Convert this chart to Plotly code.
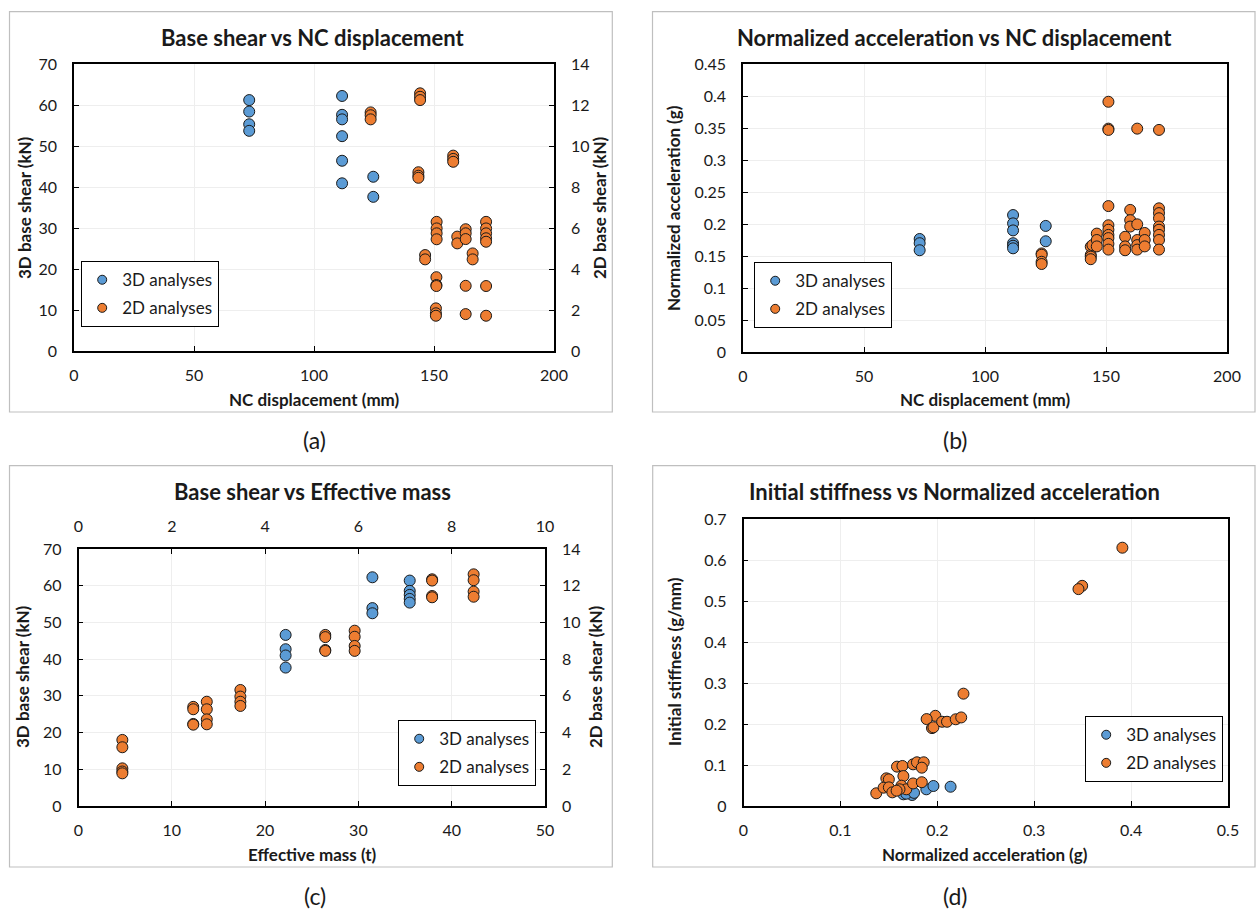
import plotly.graph_objects as go

W, H = 1258, 910
FONT = "Lato"
BLUE = "#5b9bd5"
ORANGE = "#ed7d31"

# ---------------- data ----------------
# (a) Base shear vs NC displacement
a3d_disp = [73, 73, 73, 73, 111.7, 111.7, 111.7, 111.7, 111.7, 111.7, 124.7, 124.7]
a3d_shear = [61.2, 58.4, 55.3, 53.7, 62.2, 57.6, 56.5, 52.4, 46.4, 40.9, 42.5, 37.6]
a2d_disp = [123.6, 123.6, 123.6, 144.2, 144.2, 144.2, 158, 158, 158, 143.5, 143.5, 143.5,
            146.3, 146.3, 151.1, 151.1, 151.1, 151.1, 151, 151, 151, 150.8, 150.8, 150.8,
            159.7, 159.7, 163.2, 163.2, 163.2, 166.1, 166.1, 163.2, 163.2,
            171.7, 171.7, 171.7, 171.7, 171.7, 171.7, 171.7]
a2d_shear = [11.64, 11.5, 11.3, 12.57, 12.4, 12.24, 9.53, 9.37, 9.23, 8.72, 8.55, 8.45,
             4.68, 4.47, 6.3, 5.98, 5.74, 5.45, 3.6, 3.22, 3.17, 2.08, 1.84, 1.72,
             5.58, 5.25, 5.94, 5.74, 5.46, 4.76, 4.47, 3.18, 1.8,
             6.3, 5.98, 5.74, 5.5, 5.33, 3.17, 1.72]

# (b) Normalized acceleration vs NC displacement
b3d_disp = [73, 73, 73, 111.6, 111.6, 111.6, 111.6, 111.6, 111.6, 125.1, 125.1]
b3d_acc = [0.1766, 0.170, 0.159, 0.214, 0.201, 0.190, 0.170, 0.166, 0.162, 0.197, 0.173]
b2d_disp = [123.4, 123.4, 123.4, 123.4, 143.7, 143.7, 143.7, 143.7, 144.4,
            146.2, 146.2, 146.2,
            151, 151, 151, 151, 151, 151, 151, 151, 151, 151,
            157.9, 157.9, 157.9, 160, 160, 160,
            162.9, 162.9, 162.9, 162.9, 162.9, 166, 166, 166,
            171.9, 171.9, 171.9, 171.9, 171.9, 171.9, 171.9, 171.9, 171.9]
b2d_acc = [0.154, 0.152, 0.141, 0.1375, 0.1646, 0.1516, 0.149, 0.145, 0.167,
           0.185, 0.175, 0.165,
           0.391, 0.349, 0.347, 0.228, 0.198, 0.191, 0.183, 0.178, 0.169, 0.160,
           0.180, 0.165, 0.159, 0.222, 0.206, 0.196,
           0.349, 0.1995, 0.175, 0.167, 0.160, 0.186, 0.175, 0.165,
           0.347, 0.2245, 0.217, 0.209, 0.196, 0.191, 0.183, 0.175, 0.160]

# (c) Base shear vs Effective mass
c3d_mass = [22.2, 22.2, 22.2, 22.2, 31.5, 31.5, 31.5, 35.5, 35.5, 35.5, 35.5, 35.5]
c3d_shear = [46.6, 42.7, 41.0, 37.7, 62.3, 53.9, 52.5, 61.4, 58.6, 57.5, 56.4, 55.4]
c2d_mass = [0.94, 0.94, 0.94, 0.94, 0.94, 2.46, 2.46, 2.46, 2.46, 2.75, 2.75, 2.75, 2.75,
            3.47, 3.47, 3.47, 3.47, 5.29, 5.29, 5.29, 5.29, 5.92, 5.92, 5.92, 5.92,
            7.58, 7.58, 7.58, 7.58, 8.47, 8.47, 8.47, 8.47]
c2d_shear = [3.6, 3.2, 2.05, 1.88, 1.78, 5.4, 5.27, 4.47, 4.43, 5.68, 5.27, 4.72, 4.45,
             6.32, 5.96, 5.68, 5.45, 9.32, 9.2, 8.5, 8.45, 9.55, 9.22, 8.72, 8.45,
             12.35, 12.28, 11.44, 11.37, 12.62, 12.3, 11.68, 11.4]

# (d) Initial stiffness vs Normalized acceleration
d3d_acc = [0.1887, 0.196, 0.2137, 0.165, 0.174, 0.170, 0.168, 0.176]
d3d_stiff = [0.0407, 0.0488, 0.047, 0.0285, 0.0268, 0.035, 0.030, 0.032]
d2d_acc = [0.391, 0.3495, 0.3457, 0.227, 0.198, 0.189, 0.1945, 0.196, 0.205, 0.210,
           0.219, 0.2247,
           0.1584, 0.164, 0.165, 0.175, 0.179, 0.186, 0.184, 0.1474, 0.150, 0.137,
           0.1446, 0.150, 0.1536, 0.163, 0.168, 0.175, 0.184, 0.161, 0.158]
d2d_stiff = [0.630, 0.537, 0.529, 0.274, 0.220, 0.212, 0.190, 0.192, 0.2055, 0.2055,
             0.2115, 0.216,
             0.096, 0.0976, 0.073, 0.1016, 0.1066, 0.1066, 0.0935, 0.0675, 0.065, 0.031,
             0.0447, 0.0455, 0.0333, 0.0496, 0.0407, 0.055, 0.058, 0.0407, 0.0374]

LEG_3D = "3D analyses"
LEG_2D = "2D analyses"

# ---------------- helpers ----------------
def px(x):
    return x / W

def py(y):
    return 1 - y / H

MARK = dict(size=11, line=dict(color="#1a1a1a", width=1))

def axis_style(**kw):
    d = dict(
        showline=True, linecolor="black", linewidth=1.6, mirror=True,
        ticks="inside", ticklen=5, tickcolor="black", tickwidth=1,
        showgrid=True, gridcolor="#eeeeee", gridwidth=1,
        zeroline=False, automargin=False,
        tickfont=dict(family=FONT, size=16, color="#1a1a1a"),
    )
    d.update(kw)
    return d

fig = go.Figure()

def pts(x, y, color, xa, ya):
    fig.add_trace(go.Scatter(x=x, y=y, mode="markers", xaxis=xa, yaxis=ya,
                             marker=dict(color=color, **MARK), showlegend=False,
                             hoverinfo="x+y"))

def legend_entries(leg, xa, ya):
    for name, color in ((LEG_3D, BLUE), (LEG_2D, ORANGE)):
        fig.add_trace(go.Scatter(x=[None], y=[None], mode="markers", xaxis=xa, yaxis=ya,
                                 name=name, legend=leg, legendgroup=leg + name,
                                 marker=dict(color=color, size=9,
                                             line=dict(color="#1a1a1a", width=1))))

# (a)
pts(a3d_disp, a3d_shear, BLUE, "x", "y")
pts(a2d_disp, a2d_shear, ORANGE, "x", "y2")
legend_entries("legend", "x", "y")
# (b)
pts(b3d_disp, b3d_acc, BLUE, "x2", "y3")
pts(b2d_disp, b2d_acc, ORANGE, "x2", "y3")
legend_entries("legend2", "x2", "y3")
# (c)
pts(c3d_mass, c3d_shear, BLUE, "x3", "y4")
pts(c2d_mass, c2d_shear, ORANGE, "x4", "y5")
legend_entries("legend3", "x3", "y4")
# (d)
pts(d3d_acc, d3d_stiff, BLUE, "x5", "y6")
pts(d2d_acc, d2d_stiff, ORANGE, "x5", "y6")
legend_entries("legend4", "x5", "y6")

dom_a = ([px(74), px(554)], [py(351), py(64)])
dom_b = ([px(743), px(1227)], [py(352), py(64)])
dom_c = ([px(78.5), px(545)], [py(806), py(549)])
dom_d = ([px(743.5), px(1228)], [py(806), py(519)])

XSTAND = 9
YSTAND = 12

layout = dict(
    width=W, height=H, template="none",
    margin=dict(l=0, r=0, t=0, b=0),
    paper_bgcolor="white", plot_bgcolor="white",
    font=dict(family=FONT, color="#1a1a1a"),
    # (a)
    xaxis=axis_style(domain=dom_a[0], anchor="y", range=[0, 200], dtick=50, ticklabelstandoff=XSTAND),
    yaxis=axis_style(domain=dom_a[1], anchor="x", range=[0, 70], dtick=10, ticklabelstandoff=YSTAND),
    yaxis2=axis_style(overlaying="y", anchor="x", side="right", range=[0, 14], dtick=2,
                      showgrid=False, mirror=False, ticklabelstandoff=YSTAND),
    # (b)
    xaxis2=axis_style(domain=dom_b[0], anchor="y3", range=[0, 200], dtick=50, ticklabelstandoff=XSTAND),
    yaxis3=axis_style(domain=dom_b[1], anchor="x2", range=[0, 0.45], dtick=0.05,
                      tickformat="~g", ticklabelstandoff=YSTAND),
    # (c)
    xaxis3=axis_style(domain=dom_c[0], anchor="y4", range=[0, 50], dtick=10, ticklabelstandoff=XSTAND),
    yaxis4=axis_style(domain=dom_c[1], anchor="x3", range=[0, 70], dtick=10, ticklabelstandoff=YSTAND),
    xaxis4=axis_style(overlaying="x3", anchor="y4", side="top", range=[0, 10], dtick=2,
                      showgrid=False, mirror=False, ticklabelstandoff=XSTAND),
    yaxis5=axis_style(overlaying="y4", anchor="x3", side="right", range=[0, 14], dtick=2,
                      showgrid=False, mirror=False, ticklabelstandoff=YSTAND),
    # (d)
    xaxis5=axis_style(domain=dom_d[0], anchor="y6", range=[0, 0.5], dtick=0.1,
                      tickformat="~g", ticklabelstandoff=XSTAND),
    yaxis6=axis_style(domain=dom_d[1], anchor="x5", range=[0, 0.7], dtick=0.1,
                      tickformat="~g", ticklabelstandoff=YSTAND),
)

def legend_at(x, y):
    return dict(x=px(x), y=py(y), xanchor="center", yanchor="top",
                bgcolor="white", bordercolor="black", borderwidth=1.2,
                font=dict(family=FONT, size=17, color="#1a1a1a"),
                traceorder="grouped", tracegroupgap=3, itemwidth=30)

# legend boxes centred on the reference legend boxes
layout["legend"] = legend_at(150, 261)
layout["legend2"] = legend_at(823, 262)
layout["legend3"] = legend_at(467, 720)
layout["legend4"] = legend_at(1154, 716)

fig.update_layout(**layout)

# panel frames
frames = [(9.5, 11.7, 612.3, 412), (652.5, 11.7, 1255, 412),
          (9.5, 465.7, 612.3, 867), (652.7, 465.7, 1255, 867)]
for x0, y0, x1, y1 in frames:
    fig.add_shape(type="rect", xref="paper", yref="paper",
                  x0=px(x0), x1=px(x1), y0=py(y1), y1=py(y0),
                  line=dict(color="#bfbfbf", width=1.2), fillcolor="rgba(0,0,0,0)",
                  layer="below")

def text(t, x, y, size, bold=False, angle=0):
    fig.add_annotation(text=t, x=px(x), y=py(y), xref="paper", yref="paper",
                       xanchor="center", yanchor="middle", showarrow=False,
                       textangle=angle,
                       font=dict(family=FONT, size=size, color="#1a1a1a",
                                 weight="bold" if bold else "normal"))

# titles
text("Base shear vs NC displacement", 312, 38, 22, True)
text("Normalized acceleration vs NC displacement", 954, 38, 22, True)
text("Base shear vs Effective mass", 312, 492, 22, True)
text("Initial stiffness vs Normalized acceleration", 954, 492, 22, True)
# axis titles
text("NC displacement (mm)", 314, 399, 17, True)
text("3D base shear (kN)", 25, 208, 17, True, -90)
text("2D base shear (kN)", 600, 208, 17, True, -90)
text("NC displacement (mm)", 985, 399, 17, True)
text("Normalized acceleration (g)", 674, 208, 17, True, -90)
text("Effective mass (t)", 312, 854, 17, True)
text("3D base shear (kN)", 22, 677, 17, True, -90)
text("2D base shear (kN)", 595, 677, 17, True, -90)
text("Normalized acceleration (g)", 985, 854, 17, True)
text("Initial stiffness (g/mm)", 674, 662, 17, True, -90)
# panel labels
text("(a)", 315, 440, 23)
text("(b)", 955, 440, 23)
text("(c)", 315, 896, 23)
text("(d)", 955, 896, 23)

fig.write_html("out.html")
